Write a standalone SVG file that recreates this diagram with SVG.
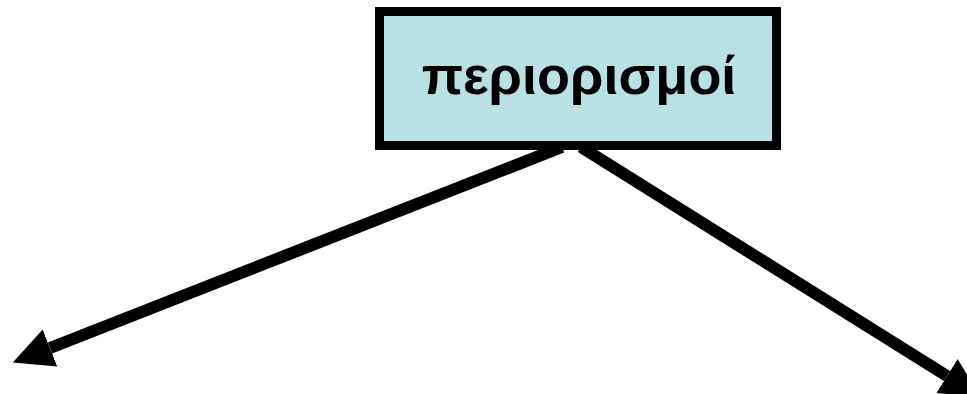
<svg xmlns="http://www.w3.org/2000/svg" width="967" height="394" viewBox="0 0 967 394">
<style>
.box{fill:#B9E0E3;stroke:#000;stroke-width:9}
.lbl{font-family:"Liberation Sans",Arial,sans-serif;font-weight:bold;font-size:54px;fill:#000}
.conn{stroke:#000;stroke-width:12;fill:none}
</style>
<defs>
<marker id="ah" markerUnits="userSpaceOnUse" markerWidth="42" markerHeight="42" refX="0" refY="20" orient="auto" viewBox="0 0 42 42">
<path d="M0,0 L40,20 L0,40 Z" fill="#000"/>
</marker>
</defs>
<g id="node-periorismoi">
<rect class="box" x="379.5" y="11.5" width="397" height="134"/>
<text class="lbl" x="579" y="94" text-anchor="middle">περιορισμοί</text>
</g>
<g id="connectors">
<line class="conn" x1="562" y1="147" x2="50" y2="348" marker-end="url(#ah)"/>
<line class="conn" x1="581" y1="147" x2="947" y2="376" marker-end="url(#ah)"/>
</g>
</svg>
